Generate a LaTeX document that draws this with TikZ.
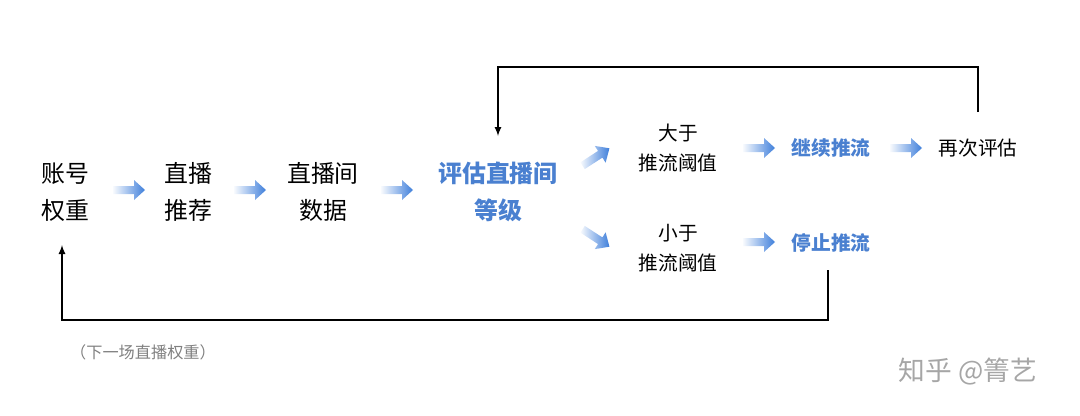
\documentclass[tikz,border=0pt]{standalone}
\usepackage{fontspec}
\setmainfont{Noto Sans CJK SC}
\usetikzlibrary{positioning}
\definecolor{arrblue}{HTML}{3F7FDB}
\definecolor{txtblue}{HTML}{4A80D0}
\newcommand{\flowarr}[2]{%
  \begin{scope}[shift={(#1)},rotate=#2]
    \shade[left color=arrblue!4, right color=arrblue] (-16,-4) -- (5,-4) -- (5,-10) -- (16,0) -- (5,10) -- (5,4) -- (-16,4) -- cycle;
  \end{scope}}
\begin{document}
\begin{tikzpicture}[x=0.025cm,y=-0.025cm]
		\tikzset{stage/.style={align=center,font=\fontsize{17}{26}\selectfont,inner sep=1pt},
		  small/.style={align=center,font=\fontsize{14}{21}\selectfont,inner sep=1pt},
		  key/.style={stage,text=txtblue,font=\fontsize{17}{26}\selectfont\bfseries},
		  keys/.style={small,text=txtblue,font=\fontsize{14}{21}\selectfont\bfseries},
		  back/.style={black,line width=1.2pt,-latex}}
		\useasboundingbox (0,0) rectangle (1080,415);
		\node [stage] (weight) at (65,192) {账号\\权重};
		\node [stage] (rec) at (188,192) {直播\\推荐};
		\node [stage] (data) at (323,192) {直播间\\数据};
		\node [key] (level) at (498,192) {评估直播间\\等级};
		\node [small] (above) at (678,148) {大于\\推流阈值};
		\node [small] (below) at (678,248) {小于\\推流阈值};
		\node [keys] (keep) at (831,148) {继续推流};
		\node [small] (again) at (978,148) {再次评估};
		\node [keys] (stop) at (831,243) {停止推流};
		\node [text=gray,font=\fontsize{11.5}{14}\selectfont] (note) at (143,352) {（下一场直播权重）};
		\node [text=gray!70,font=\fontsize{19}{24}\selectfont] (mark) at (968,372) {知乎 @箐艺};
		% flow arrows
		\flowarr{129,190}{0}
		\flowarr{250,190}{0}
		\flowarr{397,190}{0}
		\flowarr{596,157}{33}
		\flowarr{596,238}{-33}
		\flowarr{759,148}{0}
		\flowarr{906,148}{0}
		\flowarr{759,242}{0}
		% feedback loops
		\coordinate (againtop) at (978,112);
		\coordinate (leveltop) at (498,136);
		\coordinate (stopbot) at (828,270);
		\coordinate (weightbot) at (62,245);
		\draw [back] (againtop) |- (498,67) -- (leveltop);
		\draw [back] (stopbot) |- (62,320) -- (weightbot);
\end{tikzpicture}
\end{document}
